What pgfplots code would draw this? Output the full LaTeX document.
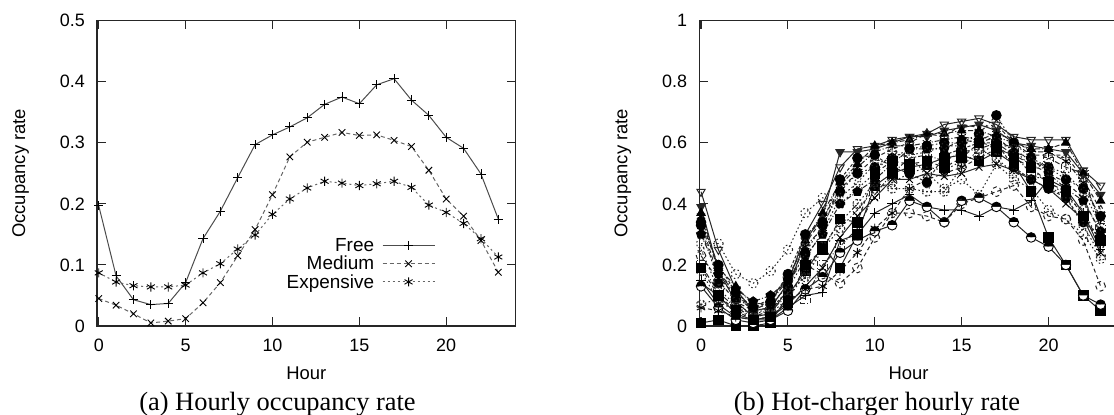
\documentclass[border=0pt]{standalone}
\usepackage{fontspec}
\setmainfont{Liberation Sans}
\newfontfamily\capfont{Liberation Serif}
\usepackage{pgfplots}
\pgfplotsset{compat=1.18}
\usetikzlibrary{plotmarks}

\pgfplotsset{
  gp/.style={
    scale only axis, width=418.7bp, height=305.3bp,
    xmin=-0.1, xmax=24,
    xtick={0,5,10,15,20},
    tick align=inside, major tick length=8.5bp,
    axis line style={black!85, line width=1.1bp},
    tick style={black!85, line width=1.1bp},
    font=\fontsize{18}{20}\selectfont,
    /pgf/number format/assume math mode=true,
    yticklabel style={inner sep=0pt, xshift=-12bp, anchor=east},
    xticklabel style={inner sep=0pt, yshift=-13bp, anchor=north},
    xlabel={Hour}, ylabel={Occupancy rate},
    every axis x label/.style={at={(axis description cs:0.5,0)}, yshift=-47bp, anchor=center, font=\fontsize{18.5}{20}\selectfont},
    every axis y label/.style={at={(axis description cs:0,0.5)}, xshift=-76.5bp, rotate=90, anchor=center, font=\fontsize{18.5}{20}\selectfont},
    clip=false,
  },
  ln/.style={line width=1bp, black!70, mark size=4.6bp, mark options={solid, black, line width=0.9bp}},
  rn/.style={line width=1bp, black!85, mark size=4.8bp, mark options={solid, black, line width=0.9bp}},
}

\begin{document}
\begin{tikzpicture}
\useasboundingbox (0,0) rectangle (1114bp,415bp);

% (a) hourly occupancy rate
\begin{axis}[gp, at={(97bp,89bp)}, anchor=south west,
  ymin=0, ymax=0.5, ytick={0,0.1,0.2,0.3,0.4,0.5},
  yticklabel style={/pgf/number format/fixed},
  legend style={draw=none, fill=none, at={(axis description cs:0.815,0.30)},
    anchor=north east, legend cell align=right, font=\fontsize{19}{19}\selectfont,
    row sep=-1bp, /tikz/column sep=6bp},
  legend plot pos=right,
  legend image code/.code={\draw[mark repeat=2,mark phase=2,#1] plot coordinates {(0bp,0bp) (26bp,0bp) (52bp,0bp)};},
]
\addplot[ln, mark=+] coordinates {
(0,0.197) (1,0.082) (2,0.043) (3,0.035) (4,0.037) (5,0.071) (6,0.143) (7,0.188)
(8,0.243) (9,0.297) (10,0.313) (11,0.326) (12,0.341) (13,0.363) (14,0.375) (15,0.364)
(16,0.395) (17,0.405) (18,0.370) (19,0.345) (20,0.309) (21,0.291) (22,0.249) (23,0.175)};
\addlegendentry{Free}
\addplot[ln, black!60, dash pattern=on 4bp off 3bp, mark=x] coordinates {
(0,0.045) (1,0.034) (2,0.020) (3,0.005) (4,0.008) (5,0.012) (6,0.038) (7,0.071)
(8,0.115) (9,0.158) (10,0.215) (11,0.277) (12,0.301) (13,0.309) (14,0.317) (15,0.312)
(16,0.313) (17,0.304) (18,0.294) (19,0.255) (20,0.208) (21,0.180) (22,0.140) (23,0.088)};
\addlegendentry{Medium}
\addplot[ln, black!60, dash pattern=on 2bp off 3bp, mark=asterisk] coordinates {
(0,0.087) (1,0.072) (2,0.066) (3,0.064) (4,0.064) (5,0.067) (6,0.087) (7,0.102)
(8,0.126) (9,0.149) (10,0.183) (11,0.208) (12,0.226) (13,0.237) (14,0.234) (15,0.230)
(16,0.233) (17,0.237) (18,0.227) (19,0.198) (20,0.186) (21,0.168) (22,0.143) (23,0.113)};
\addlegendentry{Expensive}
\end{axis}

% (b) hot-charger hourly rate
\begin{axis}[gp, at={(699.3bp,89bp)}, anchor=south west,
  ymin=0, ymax=1, ytick={0,0.2,0.4,0.6,0.8,1},
  yticklabel style={/pgf/number format/fixed},
]
\addplot[rn, mark=triangle, mark options={rotate=180, fill=white}] coordinates {
(0,0.44) (1,0.25) (2,0.12) (3,0.05) (4,0.06) (5,0.14) (6,0.30) (7,0.40) (8,0.52) (9,0.58) (10,0.59) (11,0.61)
(12,0.62) (13,0.63) (14,0.66) (15,0.67) (16,0.68) (17,0.66) (18,0.62) (19,0.61) (20,0.61) (21,0.61) (22,0.51) (23,0.46)};
\addplot[rn, mark=triangle*, mark options={rotate=180}] coordinates {
(0,0.39) (1,0.18) (2,0.08) (3,0.03) (4,0.04) (5,0.12) (6,0.28) (7,0.36) (8,0.57) (9,0.57) (10,0.58) (11,0.60)
(12,0.62) (13,0.62) (14,0.64) (15,0.65) (16,0.66) (17,0.64) (18,0.60) (19,0.59) (20,0.58) (21,0.57) (22,0.50) (23,0.43)};
\addplot[rn, dash pattern=on 5bp off 2bp on 1bp off 2bp, mark=triangle*] coordinates {
(0,0.37) (1,0.19) (2,0.13) (3,0.07) (4,0.08) (5,0.15) (6,0.28) (7,0.37) (8,0.47) (9,0.53) (10,0.59) (11,0.60)
(12,0.61) (13,0.63) (14,0.63) (15,0.64) (16,0.64) (17,0.62) (18,0.60) (19,0.58) (20,0.58) (21,0.60) (22,0.50) (23,0.41)};
\addplot[rn, dash pattern=on 4bp off 3bp, mark=triangle, mark options={fill=white}] coordinates {
(0,0.34) (1,0.16) (2,0.10) (3,0.06) (4,0.09) (5,0.16) (6,0.27) (7,0.35) (8,0.45) (9,0.50) (10,0.55) (11,0.58)
(12,0.60) (13,0.63) (14,0.62) (15,0.66) (16,0.65) (17,0.66) (18,0.60) (19,0.56) (20,0.56) (21,0.56) (22,0.48) (23,0.38)};
\addplot[rn, dash pattern=on 1.5bp off 2.5bp, mark=*] coordinates {
(0,0.33) (1,0.14) (2,0.09) (3,0.06) (4,0.07) (5,0.13) (6,0.24) (7,0.33) (8,0.44) (9,0.50) (10,0.52) (11,0.55)
(12,0.58) (13,0.59) (14,0.60) (15,0.60) (16,0.63) (17,0.69) (18,0.60) (19,0.55) (20,0.52) (21,0.48) (22,0.45) (23,0.36)};
\addplot[rn, dash pattern=on 1.5bp off 2.5bp, mark=o, mark options={fill=white}] coordinates {
(0,0.27) (1,0.27) (2,0.17) (3,0.14) (4,0.18) (5,0.25) (6,0.37) (7,0.42) (8,0.40) (9,0.45) (10,0.50) (11,0.57)
(12,0.55) (13,0.50) (14,0.45) (15,0.48) (16,0.43) (17,0.53) (18,0.48) (19,0.45) (20,0.38) (21,0.35) (22,0.30) (23,0.22)};
\addplot[rn, dash pattern=on 5bp off 2bp on 1bp off 2bp, mark=square, mark options={fill=white}] coordinates {
(0,0.20) (1,0.11) (2,0.06) (3,0.03) (4,0.05) (5,0.10) (6,0.09) (7,0.20) (8,0.26) (9,0.32) (10,0.43) (11,0.50)
(12,0.55) (13,0.56) (14,0.54) (15,0.57) (16,0.58) (17,0.60) (18,0.56) (19,0.50) (20,0.55) (21,0.52) (22,0.50) (23,0.32)};
\addplot[rn, mark=square*] coordinates {
(0,0.01) (1,0.02) (2,0.00) (3,0.00) (4,0.01) (5,0.10) (6,0.18) (7,0.26) (8,0.19) (9,0.30) (10,0.46) (11,0.50)
(12,0.52) (13,0.53) (14,0.55) (15,0.56) (16,0.54) (17,0.57) (18,0.53) (19,0.44) (20,0.29) (21,0.20) (22,0.10) (23,0.05)};
\addplot[rn, mark=+] coordinates {
(0,0.15) (1,0.07) (2,0.03) (3,0.02) (4,0.02) (5,0.06) (6,0.10) (7,0.11) (8,0.28) (9,0.30) (10,0.37) (11,0.40)
(12,0.43) (13,0.39) (14,0.38) (15,0.38) (16,0.36) (17,0.39) (18,0.38) (19,0.41) (20,0.48) (21,0.45) (22,0.37) (23,0.25)};
\addplot[rn, mark=halfcircle*] coordinates {
(0,0.13) (1,0.06) (2,0.02) (3,0.01) (4,0.02) (5,0.05) (6,0.12) (7,0.16) (8,0.24) (9,0.28) (10,0.31) (11,0.33)
(12,0.41) (13,0.39) (14,0.34) (15,0.41) (16,0.42) (17,0.39) (18,0.34) (19,0.29) (20,0.26) (21,0.20) (22,0.10) (23,0.07)};
\addplot[rn, dash pattern=on 4bp off 3bp, mark=o, mark options={fill=white}] coordinates {
(0,0.23) (1,0.15) (2,0.08) (3,0.05) (4,0.08) (5,0.16) (6,0.20) (7,0.17) (8,0.14) (9,0.19) (10,0.29) (11,0.37)
(12,0.37) (13,0.36) (14,0.34) (15,0.40) (16,0.42) (17,0.44) (18,0.46) (19,0.39) (20,0.36) (21,0.35) (22,0.28) (23,0.13)};
\addplot[rn, dash pattern=on 4bp off 3bp, mark=asterisk] coordinates {
(0,0.06) (1,0.05) (2,0.03) (3,0.02) (4,0.03) (5,0.08) (6,0.12) (7,0.13) (8,0.18) (9,0.24) (10,0.32) (11,0.37)
(12,0.45) (13,0.48) (14,0.50) (15,0.52) (16,0.55) (17,0.58) (18,0.56) (19,0.53) (20,0.50) (21,0.47) (22,0.42) (23,0.30)};
\addplot[rn, dash pattern=on 1.5bp off 2.5bp, mark=otimes, mark options={fill=white}] coordinates {
(0,0.07) (1,0.09) (2,0.06) (3,0.04) (4,0.06) (5,0.11) (6,0.16) (7,0.25) (8,0.32) (9,0.38) (10,0.45) (11,0.47)
(12,0.50) (13,0.52) (14,0.51) (15,0.54) (16,0.56) (17,0.60) (18,0.58) (19,0.52) (20,0.46) (21,0.42) (22,0.38) (23,0.27)};
\addplot[rn, dash pattern=on 5bp off 2bp on 1bp off 2bp, mark=pentagon*] coordinates {
(0,0.30) (1,0.17) (2,0.12) (3,0.08) (4,0.10) (5,0.15) (6,0.23) (7,0.30) (8,0.40) (9,0.44) (10,0.48) (11,0.53)
(12,0.58) (13,0.58) (14,0.58) (15,0.61) (16,0.60) (17,0.62) (18,0.57) (19,0.55) (20,0.50) (21,0.45) (22,0.41) (23,0.31)};
\addplot[rn, dash pattern=on 3bp off 2bp, mark=*] coordinates {
(0,0.34) (1,0.20) (2,0.11) (3,0.06) (4,0.08) (5,0.17) (6,0.30) (7,0.34) (8,0.48) (9,0.55) (10,0.56) (11,0.52)
(12,0.50) (13,0.47) (14,0.56) (15,0.58) (16,0.60) (17,0.60) (18,0.52) (19,0.48) (20,0.45) (21,0.42) (22,0.34) (23,0.29)};
\addplot[rn, dash pattern=on 1.5bp off 2.5bp, mark=oplus, mark options={fill=white}] coordinates {
(0,0.18) (1,0.08) (2,0.05) (3,0.03) (4,0.04) (5,0.09) (6,0.17) (7,0.26) (8,0.34) (9,0.40) (10,0.47) (11,0.45)
(12,0.45) (13,0.44) (14,0.44) (15,0.52) (16,0.58) (17,0.55) (18,0.50) (19,0.49) (20,0.48) (21,0.42) (22,0.33) (23,0.23)};
\addplot[rn, dash pattern=on 1.5bp off 2.5bp, mark=diamond, mark options={fill=white}] coordinates {
(0,0.25) (1,0.12) (2,0.07) (3,0.04) (4,0.05) (5,0.12) (6,0.22) (7,0.31) (8,0.42) (9,0.47) (10,0.53) (11,0.55)
(12,0.56) (13,0.57) (14,0.59) (15,0.59) (16,0.62) (17,0.61) (18,0.58) (19,0.54) (20,0.52) (21,0.50) (22,0.44) (23,0.33)};
\addplot[rn, dash pattern=on 4bp off 3bp, mark=square*] coordinates {
(0,0.19) (1,0.10) (2,0.05) (3,0.02) (4,0.03) (5,0.08) (6,0.20) (7,0.25) (8,0.35) (9,0.34) (10,0.50) (11,0.54)
(12,0.53) (13,0.54) (14,0.52) (15,0.55) (16,0.60) (17,0.59) (18,0.55) (19,0.52) (20,0.47) (21,0.44) (22,0.36) (23,0.28)};
\addplot[rn, dash pattern=on 5bp off 2bp on 1bp off 2bp, mark=asterisk] coordinates {
(0,0.36) (1,0.18) (2,0.10) (3,0.05) (4,0.06) (5,0.14) (6,0.26) (7,0.32) (8,0.46) (9,0.52) (10,0.57) (11,0.59)
(12,0.59) (13,0.60) (14,0.61) (15,0.62) (16,0.61) (17,0.63) (18,0.61) (19,0.57) (20,0.57) (21,0.54) (22,0.47) (23,0.35)};
\addplot[rn, mark=x] coordinates {
(0,0.14) (1,0.10) (2,0.04) (3,0.02) (4,0.03) (5,0.07) (6,0.13) (7,0.19) (8,0.29) (9,0.36) (10,0.42) (11,0.48)
(12,0.48) (13,0.50) (14,0.49) (15,0.50) (16,0.52) (17,0.53) (18,0.51) (19,0.48) (20,0.45) (21,0.40) (22,0.35) (23,0.24)};
\end{axis}

\node[font=\capfont\fontsize{26.5}{28}\selectfont, anchor=base] at (277.5bp,5bp) {(a) Hourly occupancy rate};
\node[font=\capfont\fontsize{26.5}{28}\selectfont, anchor=base] at (877bp,5bp) {(b) Hot-charger hourly rate};
\end{tikzpicture}
\end{document}
